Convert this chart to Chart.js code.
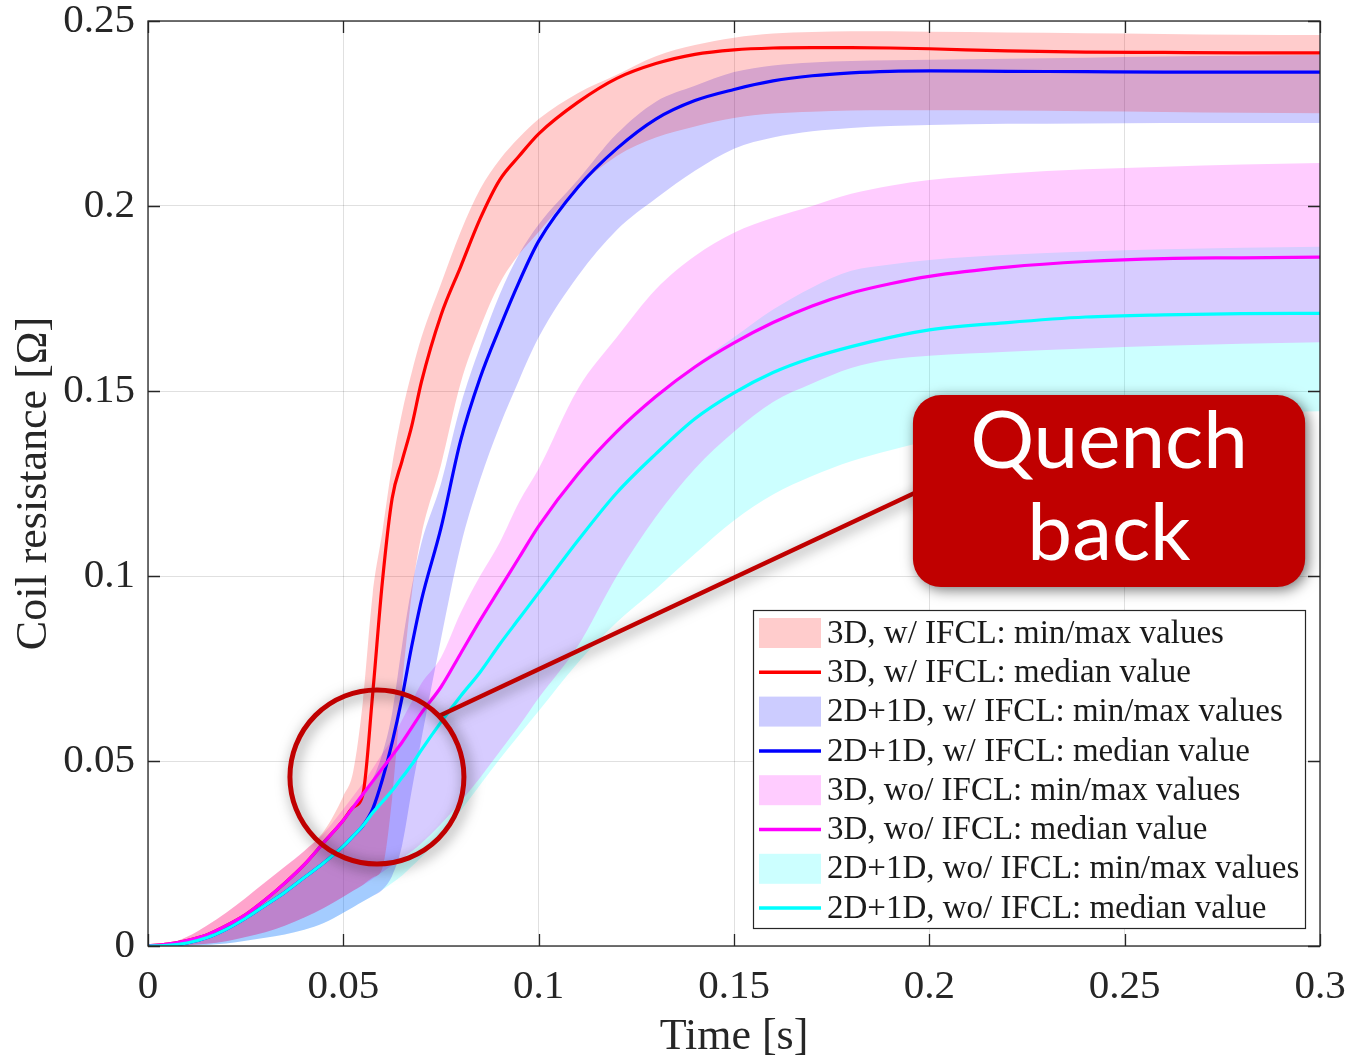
<!DOCTYPE html>
<html>
<head>
<meta charset="utf-8">
<title>Coil resistance</title>
<script src="https://cdn.jsdelivr.net/npm/chart.js@4.4.1/dist/chart.umd.min.js"></script>
<style>
  html, body { margin: 0; padding: 0; background: #fff; }
  #wrap { width: 1350px; height: 1064px; }
</style>
</head>
<body>
<div id="wrap"><canvas id="chart" width="1350" height="1064"></canvas></div>
<script>
// time base [s]
const time = [0, 0.005, 0.01, 0.015, 0.02, 0.025, 0.03, 0.035, 0.04, 0.045,
  0.05, 0.0525, 0.055, 0.0575, 0.06, 0.0625, 0.065, 0.0675, 0.07, 0.075,
  0.08, 0.085, 0.09, 0.095, 0.1, 0.11, 0.12, 0.13, 0.14, 0.15,
  0.16, 0.17, 0.18, 0.19, 0.2, 0.22, 0.24, 0.26, 0.28, 0.3];

// 3D, w/ IFCL
const med3dIfcl = [0, 0.0005, 0.0015, 0.003, 0.0055, 0.0085, 0.0125, 0.017, 0.022, 0.028,
  0.034, 0.0375, 0.041, 0.068, 0.0985, 0.121, 0.131, 0.1405, 0.1525, 0.1705,
  0.1835, 0.1965, 0.207, 0.2135, 0.2195, 0.228, 0.2345, 0.2385, 0.241, 0.2422,
  0.2427, 0.2428, 0.2428, 0.2427, 0.2425, 0.2419, 0.2416, 0.2415, 0.2414, 0.2414];
const max3dIfcl = [0, 0.0005, 0.0025, 0.0055, 0.009, 0.013, 0.0172, 0.0214, 0.0257, 0.031,
  0.0405, 0.047, 0.066, 0.095, 0.112, 0.13, 0.144, 0.155, 0.1645, 0.179,
  0.193, 0.2045, 0.2125, 0.2185, 0.2235, 0.2305, 0.2355, 0.2405, 0.2435, 0.2455,
  0.2466, 0.247, 0.2472, 0.2472, 0.2471, 0.2469, 0.2467, 0.2465, 0.2463, 0.2462];
const min3dIfcl = [0, 0, 0.0002, 0.0006, 0.0013, 0.0024, 0.0037, 0.0055, 0.0077, 0.0103,
  0.0133, 0.0149, 0.0165, 0.0185, 0.021, 0.04, 0.07, 0.095, 0.111, 0.13,
  0.152, 0.167, 0.179, 0.187, 0.193, 0.205, 0.2135, 0.2185, 0.2215, 0.2238,
  0.225, 0.2255, 0.2258, 0.2259, 0.2259, 0.2258, 0.2256, 0.2254, 0.2252, 0.2251];

// 2D+1D, w/ IFCL
const med2dIfcl = [0, 0.0002, 0.0008, 0.0022, 0.0045, 0.0075, 0.011, 0.0145, 0.0185, 0.0225,
  0.027, 0.0297, 0.0325, 0.037, 0.045, 0.055, 0.067, 0.081, 0.0935, 0.113,
  0.1365, 0.1535, 0.167, 0.1795, 0.1905, 0.205, 0.2155, 0.2235, 0.2285, 0.2315,
  0.2338, 0.2352, 0.236, 0.2364, 0.2365, 0.2364, 0.2363, 0.2362, 0.2362, 0.2362];
const max2dIfcl = [0, 0.0005, 0.0015, 0.003, 0.0055, 0.0085, 0.0125, 0.017, 0.022, 0.028,
  0.034, 0.0375, 0.041, 0.045, 0.052, 0.063, 0.081, 0.097, 0.109, 0.125,
  0.146, 0.162, 0.176, 0.187, 0.195, 0.207, 0.2195, 0.2282, 0.2325, 0.2362,
  0.238, 0.2388, 0.2392, 0.2394, 0.2395, 0.2398, 0.2401, 0.2404, 0.2406, 0.2408];
const min2dIfcl = [0, 0, 0.0001, 0.0003, 0.0007, 0.0014, 0.0022, 0.0031, 0.0044, 0.0062,
  0.009, 0.0105, 0.012, 0.0135, 0.0152, 0.019, 0.027, 0.042, 0.056, 0.083,
  0.108, 0.126, 0.1405, 0.153, 0.1645, 0.181, 0.1935, 0.202, 0.2095, 0.2155,
  0.2185, 0.2202, 0.2211, 0.2216, 0.2219, 0.2222, 0.2223, 0.2224, 0.2224, 0.2224];

// 3D, wo/ IFCL
const med3dNoIfcl = [0, 0.0005, 0.0015, 0.003, 0.0055, 0.0085, 0.0125, 0.017, 0.022, 0.028,
  0.034, 0.0375, 0.041, 0.0445, 0.048, 0.0515, 0.055, 0.059, 0.063, 0.07,
  0.079, 0.088, 0.0965, 0.105, 0.1135, 0.1275, 0.139, 0.1485, 0.1565, 0.163,
  0.1685, 0.173, 0.1765, 0.179, 0.181, 0.1835, 0.185, 0.1858, 0.186, 0.1862];
const max3dNoIfcl = [0, 0.0005, 0.0025, 0.0055, 0.009, 0.013, 0.0172, 0.0214, 0.0257, 0.0305,
  0.037, 0.0405, 0.044, 0.048, 0.052, 0.056, 0.061, 0.066, 0.071, 0.078,
  0.09, 0.1, 0.109, 0.12, 0.129, 0.1505, 0.1645, 0.1775, 0.1865, 0.1928,
  0.1968, 0.2, 0.2033, 0.2055, 0.207, 0.2088, 0.2099, 0.2106, 0.2112, 0.2116];
const min3dNoIfcl = [0, 0, 0.0002, 0.0006, 0.0013, 0.0024, 0.0037, 0.0055, 0.0077, 0.0103,
  0.0133, 0.0149, 0.0165, 0.0182, 0.02, 0.0218, 0.0236, 0.0256, 0.0278, 0.033,
  0.039, 0.0455, 0.0525, 0.0595, 0.067, 0.081, 0.1, 0.116, 0.129, 0.139,
  0.147, 0.152, 0.1562, 0.1585, 0.1595, 0.1606, 0.1615, 0.1622, 0.1628, 0.1632];

// 2D+1D, wo/ IFCL
const med2dNoIfcl = [0, 0.0002, 0.0008, 0.0022, 0.0045, 0.0075, 0.011, 0.0145, 0.0185, 0.0225,
  0.027, 0.0297, 0.0325, 0.036, 0.039, 0.042, 0.0455, 0.049, 0.053, 0.0605,
  0.0675, 0.074, 0.0815, 0.0885, 0.0955, 0.1095, 0.1225, 0.133, 0.1425, 0.1495,
  0.155, 0.159, 0.162, 0.1645, 0.1665, 0.1685, 0.17, 0.1706, 0.1709, 0.171];
const max2dNoIfcl = [0, 0.0005, 0.0015, 0.003, 0.0055, 0.0085, 0.0125, 0.017, 0.022, 0.028,
  0.034, 0.0375, 0.041, 0.0445, 0.048, 0.0515, 0.055, 0.059, 0.063, 0.07,
  0.079, 0.088, 0.0965, 0.105, 0.1135, 0.1275, 0.139, 0.149, 0.157, 0.1645,
  0.172, 0.178, 0.1825, 0.1842, 0.1854, 0.1868, 0.1877, 0.1883, 0.1887, 0.189];
const min2dNoIfcl = [0, 0, 0.0001, 0.0003, 0.0007, 0.0014, 0.0022, 0.0031, 0.0044, 0.0062,
  0.009, 0.0105, 0.012, 0.0135, 0.0152, 0.017, 0.019, 0.0215, 0.024, 0.0295,
  0.0365, 0.0435, 0.0505, 0.057, 0.0635, 0.0765, 0.0875, 0.0965, 0.106, 0.115,
  0.122, 0.127, 0.131, 0.134, 0.1365, 0.1395, 0.1415, 0.143, 0.144, 0.1445];

const xTicks = [0, 0.05, 0.1, 0.15, 0.2, 0.25, 0.3];
const yTicks = [0, 0.05, 0.1, 0.15, 0.2, 0.25];

const AXIS = '#262626';
const SERIF = "'Liberation Serif', 'Times New Roman', serif";

const groups = [
  { name: '3D, w/ IFCL',     rgb: [255, 0, 0],   median: med3dIfcl,   min: min3dIfcl,   max: max3dIfcl },
  { name: '2D+1D, w/ IFCL',  rgb: [0, 0, 255],   median: med2dIfcl,   min: min2dIfcl,   max: max2dIfcl },
  { name: '3D, wo/ IFCL',    rgb: [255, 0, 255], median: med3dNoIfcl, min: min3dNoIfcl, max: max3dNoIfcl },
  { name: '2D+1D, wo/ IFCL', rgb: [0, 255, 255], median: med2dNoIfcl, min: min2dNoIfcl, max: max2dNoIfcl }
];

const rgba = (c, a) => `rgba(${c[0]},${c[1]},${c[2]},${a})`;
const points = arr => time.map((t, i) => ({ x: t, y: arr[i] }));

// each band is a lower edge plus an upper edge filled down to it; medians on top
const datasets = [];
const legendItems = [];
groups.forEach(g => {
  datasets.push({
    label: g.name + ' min', data: points(g.min),
    borderWidth: 0, pointRadius: 0, fill: false, order: 20
  });
  datasets.push({
    label: g.name + ' max', data: points(g.max),
    borderWidth: 0, pointRadius: 0, fill: '-1', order: 20,
    backgroundColor: rgba(g.rgb, 0.2)
  });
  legendItems.push({ text: g.name + ': min/max values', fill: rgba(g.rgb, 0.2) });
  legendItems.push({ text: g.name + ': median value', stroke: rgba(g.rgb, 1) });
});
groups.forEach((g, i) => {
  datasets.push({
    label: g.name + ' median', data: points(g.median),
    borderColor: rgba(g.rgb, 1), borderWidth: 3.2, pointRadius: 0,
    fill: false, order: 3 - i
  });
});

// annotation: ring round the quench-back onset, leader line and label box
const callout = {
  center: { x: 0.0586, y: 0.0457 }, radius: 87, leaderAngle: -44.5,
  box: { x0: 0.1958, x1: 0.2962, y0: 0.097, y1: 0.1489 }, corner: 28,
  lines: ['Quench', 'back'], color: '#C00000'
};

const axesBox = {
  id: 'axesBox',
  afterDatasetsDraw(chart) {
    const { ctx, chartArea: a, scales: { x, y } } = chart;
    const tick = 12;
    ctx.save();
    ctx.strokeStyle = AXIS;
    ctx.lineWidth = 1.3;
    ctx.beginPath();
    xTicks.forEach(v => {
      const px = Math.round(x.getPixelForValue(v)) + 0.5;
      ctx.moveTo(px, a.bottom); ctx.lineTo(px, a.bottom - tick);
      ctx.moveTo(px, a.top); ctx.lineTo(px, a.top + tick);
    });
    yTicks.forEach(v => {
      const py = Math.round(y.getPixelForValue(v)) + 0.5;
      ctx.moveTo(a.left, py); ctx.lineTo(a.left + tick, py);
      ctx.moveTo(a.right, py); ctx.lineTo(a.right - tick, py);
    });
    ctx.stroke();
    ctx.strokeRect(a.left, a.top, a.right - a.left, a.bottom - a.top);
    ctx.restore();
  }
};

const boxLegend = {
  id: 'boxLegend',
  afterDraw(chart) {
    const { ctx, chartArea: a } = chart;
    const w = 552, h = 318;
    const left = a.right - 15 - w, top = a.bottom - 18 - h;
    const row = 39.3;
    ctx.save();
    ctx.fillStyle = '#ffffff';
    ctx.fillRect(left, top, w, h);
    ctx.strokeStyle = AXIS;
    ctx.lineWidth = 1.2;
    ctx.strokeRect(left + 0.5, top + 0.5, w, h);
    ctx.font = `33px ${SERIF}`;
    ctx.textBaseline = 'middle';
    legendItems.forEach((it, i) => {
      const cy = top + 23 + i * row;
      if (it.fill) {
        ctx.fillStyle = it.fill;
        ctx.fillRect(left + 6, cy - 15, 62, 30);
      } else {
        ctx.strokeStyle = it.stroke;
        ctx.lineWidth = 3.5;
        ctx.beginPath();
        ctx.moveTo(left + 6, cy); ctx.lineTo(left + 68, cy);
        ctx.stroke();
      }
      ctx.fillStyle = '#1a1a1a';
      ctx.fillText(it.text, left + 74, cy + 1);
    });
    ctx.restore();
  }
};

const quenchCallout = {
  id: 'quenchCallout',
  afterDraw(chart) {
    const { ctx, scales: { x, y } } = chart;
    const cx = x.getPixelForValue(callout.center.x);
    const cy = y.getPixelForValue(callout.center.y);
    const r = callout.radius;
    const bx0 = x.getPixelForValue(callout.box.x0), bx1 = x.getPixelForValue(callout.box.x1);
    const by0 = y.getPixelForValue(callout.box.y1), by1 = y.getPixelForValue(callout.box.y0);
    const ang = callout.leaderAngle * Math.PI / 180;

    ctx.save();
    ctx.shadowColor = 'rgba(0,0,0,0.55)';
    ctx.shadowBlur = 14;
    ctx.shadowOffsetX = 3;
    ctx.shadowOffsetY = 3;
    ctx.strokeStyle = callout.color;

    // leader line
    ctx.lineWidth = 4.5;
    ctx.beginPath();
    ctx.moveTo(cx + r * Math.cos(ang), cy + r * Math.sin(ang));
    ctx.lineTo(bx0 + 6, (by0 + by1) / 2);
    ctx.stroke();

    // ring
    ctx.lineWidth = 5;
    ctx.beginPath();
    ctx.arc(cx, cy, r, 0, Math.PI * 2);
    ctx.stroke();

    // label box
    ctx.fillStyle = callout.color;
    ctx.beginPath();
    ctx.roundRect(bx0, by0, bx1 - bx0, by1 - by0, callout.corner);
    ctx.fill();

    ctx.shadowColor = 'transparent';
    ctx.fillStyle = '#ffffff';
    ctx.font = "80px Lato, 'Open Sans', sans-serif";
    ctx.textAlign = 'center';
    ctx.textBaseline = 'alphabetic';
    const mid = (bx0 + bx1) / 2, bh = by1 - by0;
    ctx.fillText(callout.lines[0], mid, by0 + bh * 0.38);
    ctx.fillText(callout.lines[1], mid, by0 + bh * 0.86);
    ctx.restore();
  }
};

new Chart(document.getElementById('chart'), {
  type: 'line',
  data: { datasets },
  options: {
    responsive: false,
    animation: false,
    events: [],
    layout: { padding: { top: 21, right: 30, left: 0, bottom: 0 } },
    elements: { line: { cubicInterpolationMode: 'monotone' } },
    plugins: {
      legend: { display: false },
      tooltip: { enabled: false },
      filler: { drawTime: 'beforeDatasetsDraw' }
    },
    scales: {
      x: {
        type: 'linear', min: 0, max: 0.3,
        afterBuildTicks: s => { s.ticks = xTicks.map(v => ({ value: v })); },
        afterFit: s => { s.height = 118; s.paddingLeft = 0; s.paddingRight = 0; },
        ticks: {
          color: AXIS, padding: 17, maxRotation: 0, autoSkip: false,
          font: { family: SERIF, size: 41 },
          callback: v => String(+v.toFixed(2))
        },
        grid: { color: 'rgba(0,0,0,0.12)', lineWidth: 1, drawTicks: false },
        border: { display: false },
        title: {
          display: true, text: 'Time [s]', color: AXIS, padding: 0,
          font: { family: SERIF, size: 44 }
        }
      },
      y: {
        type: 'linear', min: 0, max: 0.25,
        afterBuildTicks: s => { s.ticks = yTicks.map(v => ({ value: v })); },
        afterFit: s => { s.width = 148; s.paddingTop = 0; s.paddingBottom = 0; },
        ticks: {
          color: AXIS, padding: 13,
          font: { family: SERIF, size: 41 },
          callback: v => String(+v.toFixed(2))
        },
        grid: { color: 'rgba(0,0,0,0.12)', lineWidth: 1, drawTicks: false },
        border: { display: false },
        title: {
          display: true, text: 'Coil resistance [Ω]', color: AXIS,
          padding: { top: 8, bottom: 0 },
          font: { family: SERIF, size: 44 }
        }
      }
    }
  },
  plugins: [axesBox, boxLegend, quenchCallout]
});
</script>
</body>
</html>
